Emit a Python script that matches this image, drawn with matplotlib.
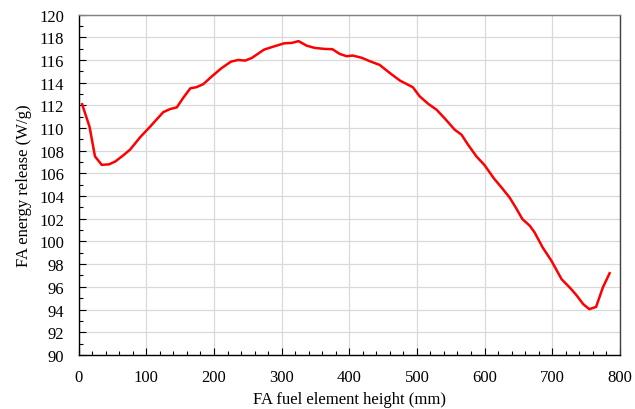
import numpy as np
import matplotlib.pyplot as plt
from matplotlib.ticker import MultipleLocator

plt.rcParams['font.family'] = ['Liberation Serif', 'DejaVu Serif']

# FA fuel element height (mm) and energy release (W/g)
height = [5, 16, 24, 34, 45, 54, 65, 76, 91, 106, 125, 135, 145, 155, 165,
          174, 184, 197, 211, 225, 236, 246, 256, 274, 288, 304, 315, 325,
          337, 349, 364, 375, 386, 396, 405, 418, 430, 445, 460, 475, 494,
          504, 517, 529, 541, 556, 566, 576, 588, 600, 614, 625, 637, 647,
          656, 667, 674, 686, 699, 714, 726, 736, 746, 755, 765, 775, 785]
energy = [112.1, 110.1, 107.5, 106.75, 106.8, 107.05, 107.55, 108.1, 109.2,
          110.15, 111.4, 111.67, 111.82, 112.7, 113.5, 113.6, 113.86, 114.56,
          115.27, 115.85, 116.0, 115.94, 116.18, 116.91, 117.18, 117.47,
          117.5, 117.66, 117.26, 117.06, 116.97, 116.95, 116.53, 116.33,
          116.39, 116.2, 115.9, 115.56, 114.85, 114.18, 113.6, 112.8, 112.12,
          111.62, 110.86, 109.85, 109.41, 108.5, 107.5, 106.73, 105.55,
          104.77, 103.88, 102.91, 101.97, 101.38, 100.8, 99.47, 98.29, 96.67,
          95.94, 95.26, 94.47, 94.03, 94.23, 95.94, 97.2]

fig = plt.figure(figsize=(6.35, 4.1), dpi=100)
ax = fig.add_axes([0.124, 0.132, 0.852, 0.830])

ax.plot(height, energy, color='#ff0000', linewidth=1.8, zorder=3)

ax.set_xlim(0, 800)
ax.set_ylim(90, 120)
ax.xaxis.set_major_locator(MultipleLocator(100))
ax.xaxis.set_minor_locator(MultipleLocator(20))
ax.yaxis.set_major_locator(MultipleLocator(2))
ax.yaxis.set_minor_locator(MultipleLocator(1))

ax.grid(True, which='major', color='#d9d9d9', linewidth=0.9, zorder=0)
ax.set_axisbelow(True)

ax.tick_params(which='both', direction='in', labelsize=12, top=False, right=False)
ax.tick_params(which='major', length=5, width=0.8, pad=10.5)
ax.tick_params(which='minor', length=3, width=0.8)

ax.spines['top'].set_color('#808080')
ax.spines['right'].set_color('#404040')
for s in ax.spines.values():
    s.set_linewidth(1.0)

ax.set_xlabel('FA fuel element height (mm)', fontsize=12, labelpad=4)
ax.set_ylabel('FA energy release (W/g)', fontsize=12, labelpad=5)

fig.savefig('out.png', dpi=100)
